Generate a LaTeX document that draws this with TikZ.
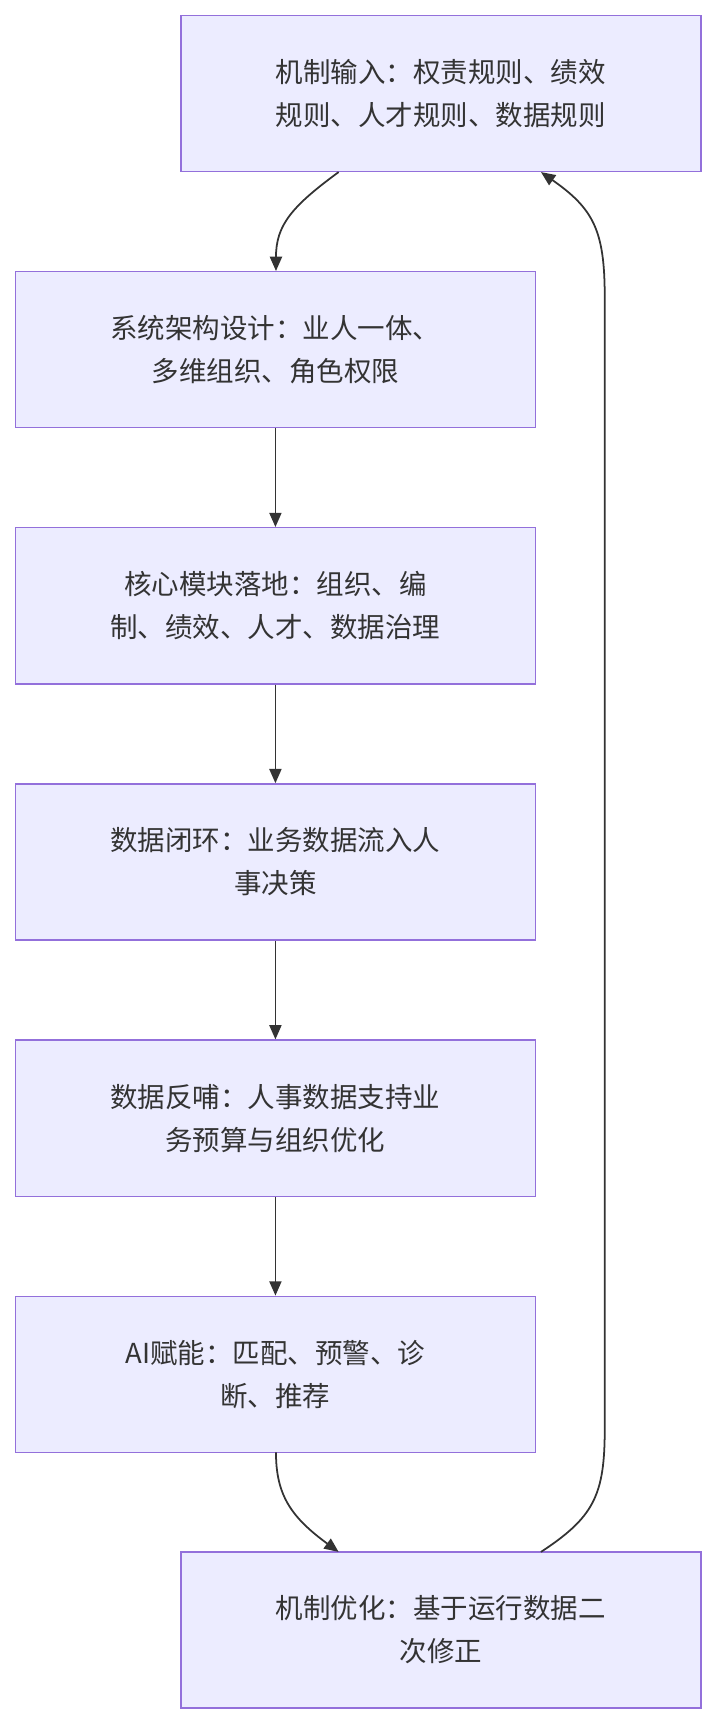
\documentclass[tikz,border=0pt]{standalone}
\usepackage{fontspec}
\setmainfont{Noto Sans CJK SC}
\usetikzlibrary{arrows.meta}
\definecolor{bfill}{HTML}{ECECFF}
\definecolor{bline}{HTML}{9370DB}
\definecolor{ed}{HTML}{333333}
\begin{document}
\begin{tikzpicture}[x=1pt,y=-1pt,
  box/.style={draw=bline,fill=bfill,line width=1.3pt,minimum width=473pt,minimum height=142pt,inner sep=0pt,align=center,text=ed,font=\fontsize{25}{39}\selectfont},
  arr/.style={draw=ed,line width=1.6pt,-{Triangle[length=13pt,width=11pt]}}]
\useasboundingbox (0,0) rectangle (652,1568);
\node[box] (n1) at (401,85) {机制输入：权责规则、绩效\\规则、人才规则、数据规则};
\node[box] (n2) at (250.5,318) {系统架构设计：业人一体、\\多维组织、角色权限};
\node[box] (n3) at (250.5,551) {核心模块落地：组织、编\\制、绩效、人才、数据治理};
\node[box] (n4) at (250.5,784) {数据闭环：业务数据流入人\\事决策};
\node[box] (n5) at (250.5,1017) {数据反哺：人事数据支持业\\务预算与组织优化};
\node[box] (n6) at (250.5,1250) {AI赋能：匹配、预警、诊\\断、推荐};
\node[box] (n7) at (401,1482.5) {机制优化：基于运行数据二\\次修正};
\coordinate (a1) at (308,156.5);
\coordinate (a2) at (251,246.5);
\draw[arr] (a1) .. controls (265,188) and (251,205) .. (a2);
\draw[arr] (n2) -- (n3);
\draw[arr] (n3) -- (n4);
\draw[arr] (n4) -- (n5);
\draw[arr] (n5) -- (n6);
\coordinate (b1) at (251,1321);
\coordinate (b2) at (308,1411.5);
\draw[arr] (b1) .. controls (251,1360) and (265,1380) .. (b2);
\coordinate (c1) at (492,1411.5);
\coordinate (c2) at (492,156.5);
\draw[arr] (c1) .. controls (540,1380) and (550,1360) .. (550,1300) -- (550,270) .. controls (550,210) and (540,190) .. (c2);
\end{tikzpicture}
\end{document}
